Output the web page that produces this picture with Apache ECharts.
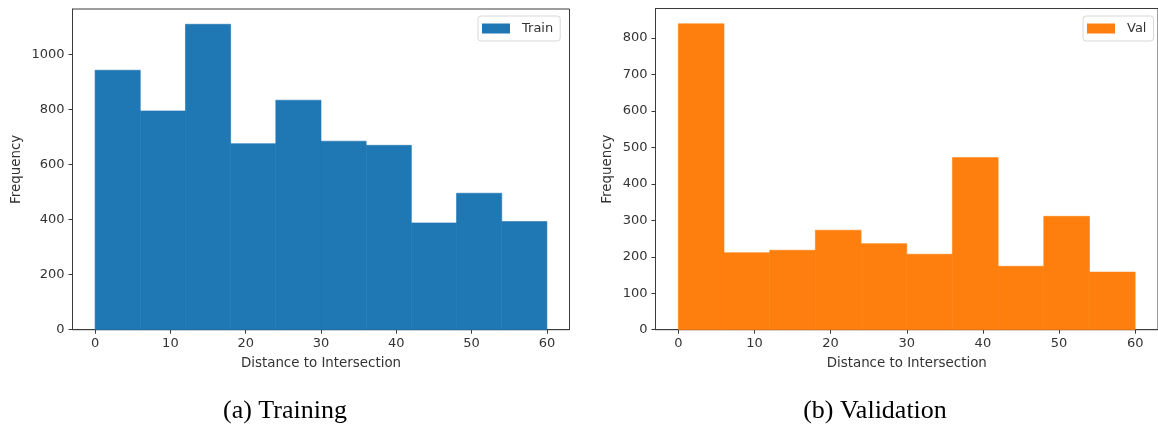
<!DOCTYPE html>
<html>
<head>
<meta charset="utf-8">
<script src="https://cdn.jsdelivr.net/npm/echarts@6/dist/echarts.min.js"></script>
<style>
  html, body { margin: 0; padding: 0; background: #fff; }
  #chart { width: 1158px; height: 426px; }
</style>
</head>
<body>
<div id="chart"></div>
<script>
// Histogram bin edges (distance to intersection) and counts per bin
const binEdges = [0, 6, 12, 18, 24, 30, 36, 42, 48, 54, 60];
const trainCounts = [943, 795, 1110, 676, 834, 685, 670, 388, 496, 393];
const valCounts = [839, 211, 218, 273, 236, 207, 472, 174, 311, 158];

const xTicks = [0, 10, 20, 30, 40, 50, 60];
const trainYTicks = [0, 200, 400, 600, 800, 1000];
const valYTicks = [0, 100, 200, 300, 400, 500, 600, 700, 800];

const BLUE = '#1f77b4';
const ORANGE = '#ff7f0e';
const SPINE = '#3a3a3a';
const TEXT = '#333';
const FONT = '"DejaVu Sans", sans-serif';

// [binStart, binEnd, count] rows for a custom histogram series
function binRows(counts) {
  return counts.map((c, i) => [binEdges[i], binEdges[i + 1], c]);
}

function histSeries(name, counts, idx, color) {
  return {
    type: 'custom',
    name: name,
    xAxisIndex: idx,
    yAxisIndex: idx,
    itemStyle: { color: color },
    encode: { x: [0, 1], y: 2 },
    data: binRows(counts),
    renderItem: function (params, api) {
      const topLeft = api.coord([api.value(0), api.value(2)]);
      const bottomRight = api.coord([api.value(1), 0]);
      return {
        type: 'rect',
        shape: {
          x: topLeft[0],
          y: topLeft[1],
          width: bottomRight[0] - topLeft[0],
          height: bottomRight[1] - topLeft[1]
        },
        style: { fill: color, stroke: color, lineWidth: 0.6 }
      };
    }
  };
}

function xAxisFor(idx) {
  return {
    type: 'value',
    gridIndex: idx,
    min: -3,
    max: 63,
    name: 'Distance to Intersection',
    nameLocation: 'middle',
    nameGap: 27,
    nameTextStyle: { fontFamily: FONT, fontSize: 13.4, color: TEXT },
    axisLine: { show: true, onZero: false, lineStyle: { color: SPINE, width: 1 } },
    axisTick: { show: true, length: 4, customValues: xTicks, lineStyle: { color: SPINE } },
    axisLabel: { customValues: xTicks, margin: 7, fontFamily: FONT, fontSize: 13, color: TEXT },
    splitLine: { show: false }
  };
}

function yAxisFor(idx, maxVal, ticks, gap) {
  return {
    type: 'value',
    gridIndex: idx,
    min: 0,
    max: maxVal,
    name: 'Frequency',
    nameLocation: 'middle',
    nameGap: gap,
    nameRotate: 90,
    nameTextStyle: { fontFamily: FONT, fontSize: 13.4, color: TEXT },
    axisLine: { show: true, onZero: false, lineStyle: { color: SPINE, width: 1 } },
    axisTick: { show: true, length: 4, customValues: ticks, lineStyle: { color: SPINE } },
    axisLabel: {
      customValues: ticks,
      margin: 8,
      fontFamily: FONT,
      fontSize: 13,
      color: TEXT,
      formatter: function (v) { return String(v); }
    },
    splitLine: { show: false }
  };
}

function legendFor(name, left) {
  return {
    data: [{ name: name, icon: 'rect' }],
    left: left,
    top: 16,
    orient: 'vertical',
    itemWidth: 28,
    itemHeight: 10,
    padding: [6, 7, 6, 4],
    borderColor: '#d8d8d8',
    borderWidth: 1,
    borderRadius: 3,
    backgroundColor: '#fff',
    selectedMode: false,
    textStyle: { fontFamily: FONT, fontSize: 13, color: TEXT, lineHeight: 13, padding: [0, 0, 0, 7] }
  };
}

const chart = echarts.init(document.getElementById('chart'), null, { renderer: 'canvas' });

chart.setOption({
  animation: false,
  backgroundColor: '#fff',
  grid: [
    { left: 72.5, top: 9, width: 497, height: 320.7, show: true, borderColor: SPINE, borderWidth: 1, containLabel: false },
    { left: 655.5, top: 8.5, width: 504, height: 321.2, show: true, borderColor: SPINE, borderWidth: 1, containLabel: false }
  ],
  xAxis: [xAxisFor(0), xAxisFor(1)],
  yAxis: [
    yAxisFor(0, 1165.5, trainYTicks, 49),
    yAxisFor(1, 881, valYTicks, 41)
  ],
  legend: [legendFor('Train', 478), legendFor('Val', 1083)],
  series: [
    histSeries('Train', trainCounts, 0, BLUE),
    histSeries('Val', valCounts, 1, ORANGE)
  ],
  graphic: [
    {
      type: 'text',
      x: 285, y: 411,
      style: {
        text: '(a) Training',
        font: '26px "Liberation Serif", "Times New Roman", serif',
        fill: '#000',
        textAlign: 'center',
        textVerticalAlign: 'middle'
      }
    },
    {
      type: 'text',
      x: 875, y: 411,
      style: {
        text: '(b) Validation',
        font: '26px "Liberation Serif", "Times New Roman", serif',
        fill: '#000',
        textAlign: 'center',
        textVerticalAlign: 'middle'
      }
    }
  ]
});
</script>
</body>
</html>
